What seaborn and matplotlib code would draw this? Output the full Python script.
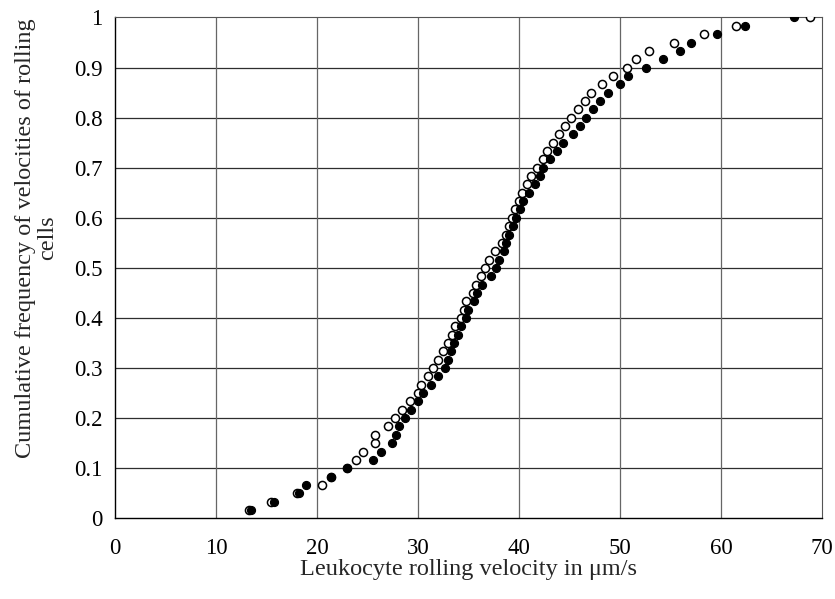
import numpy as np
import pandas as pd
import matplotlib
matplotlib.use("Agg")
import matplotlib.pyplot as plt
import seaborn as sns

# Cumulative frequency levels (60 cells per group)
cum_freq = [i / 60 for i in range(1, 61)]

# Rolling velocities (um/s), sorted, open-circle group
velocity_open = [
    13.3, 15.4, 18.0, 20.5, 21.4, 23.0, 23.9, 24.6, 25.7, 25.7,
    27.0, 27.7, 28.4, 29.2, 30.0, 30.3, 31.0, 31.5, 32.0, 32.5,
    33.0, 33.4, 33.7, 34.3, 34.6, 34.8, 35.4, 35.7, 36.2, 36.6,
    37.0, 37.6, 38.3, 38.7, 39.0, 39.3, 39.6, 40.0, 40.3, 40.8,
    41.2, 41.8, 42.4, 42.8, 43.4, 44.0, 44.6, 45.2, 45.8, 46.5,
    47.1, 48.2, 49.3, 50.7, 51.6, 52.9, 55.3, 58.3, 61.5, 68.8,
]

# Rolling velocities (um/s), sorted, filled-circle group
velocity_filled = [
    13.5, 15.7, 18.2, 18.9, 21.4, 23.0, 25.5, 26.3, 27.4, 27.8,
    28.1, 28.7, 29.3, 30.0, 30.5, 31.3, 32.0, 32.7, 33.0, 33.3,
    33.6, 34.0, 34.3, 34.8, 35.0, 35.5, 35.8, 36.3, 37.2, 37.7,
    38.0, 38.5, 38.7, 39.0, 39.4, 39.7, 40.1, 40.4, 41.0, 41.6,
    42.1, 42.4, 43.1, 43.8, 44.4, 45.3, 46.0, 46.6, 47.3, 48.0,
    48.8, 50.0, 50.8, 52.6, 54.3, 55.9, 57.0, 59.6, 62.4, 67.2,
]

x_ticks = [0, 10, 20, 30, 40, 50, 60, 70]
y_ticks = [0, 0.1, 0.2, 0.3, 0.4, 0.5, 0.6, 0.7, 0.8, 0.9, 1.0]
y_tick_labels = ["0", "0.1", "0.2", "0.3", "0.4", "0.5", "0.6", "0.7", "0.8", "0.9", "1"]

df_open = pd.DataFrame({"velocity": velocity_open, "freq": cum_freq})
df_filled = pd.DataFrame({"velocity": velocity_filled, "freq": cum_freq})

sns.set_style("white")
plt.rcParams["font.family"] = ["Liberation Serif", "DejaVu Serif"]

fig = plt.figure(figsize=(8.35, 5.99), dpi=100)
ax = fig.add_axes([0.1377, 0.1347, 0.8467, 0.8361])

# grid
for yv in y_ticks[1:-1]:
    ax.axhline(yv, color="#2e2e2e", lw=0.9, zorder=0)
for xv in x_ticks[1:-1]:
    ax.axvline(xv, color="#666666", lw=0.9, zorder=0)

sns.scatterplot(data=df_open, x="velocity", y="freq", ax=ax, s=34,
                marker="o", facecolor="white", edgecolor="black",
                linewidth=1.1, zorder=3, legend=False)
sns.scatterplot(data=df_filled, x="velocity", y="freq", ax=ax, s=34,
                marker="o", color="black", edgecolor="black",
                linewidth=0.8, zorder=4, legend=False)

ax.set_xlim(0, 70)
ax.set_ylim(0, 1)
ax.set_xticks(x_ticks)
ax.set_xticklabels([str(v) for v in x_ticks])
ax.set_yticks(y_ticks)
ax.set_yticklabels(y_tick_labels)
ax.tick_params(axis="both", labelsize=16.5, colors="black", length=4,
               width=0.9, direction="out")
ax.tick_params(axis="x", pad=10)
ax.tick_params(axis="y", pad=5)

for side in ["left", "bottom"]:
    ax.spines[side].set_color("black")
    ax.spines[side].set_linewidth(1.0)
for side in ["top", "right"]:
    ax.spines[side].set_color("#555555")
    ax.spines[side].set_linewidth(0.8)
    ax.spines[side].set_linestyle((0, (1, 1)))

ax.set_xlabel("Leukocyte rolling velocity in \u03bcm/s", fontsize=17.5, labelpad=0)
ax.set_ylabel("Cumulative frequency of velocities of rolling\ncells",
              fontsize=17.5, linespacing=1.05)
ax.yaxis.set_label_coords(-0.081, 0.56)

fig.savefig("out.png", dpi=100)
